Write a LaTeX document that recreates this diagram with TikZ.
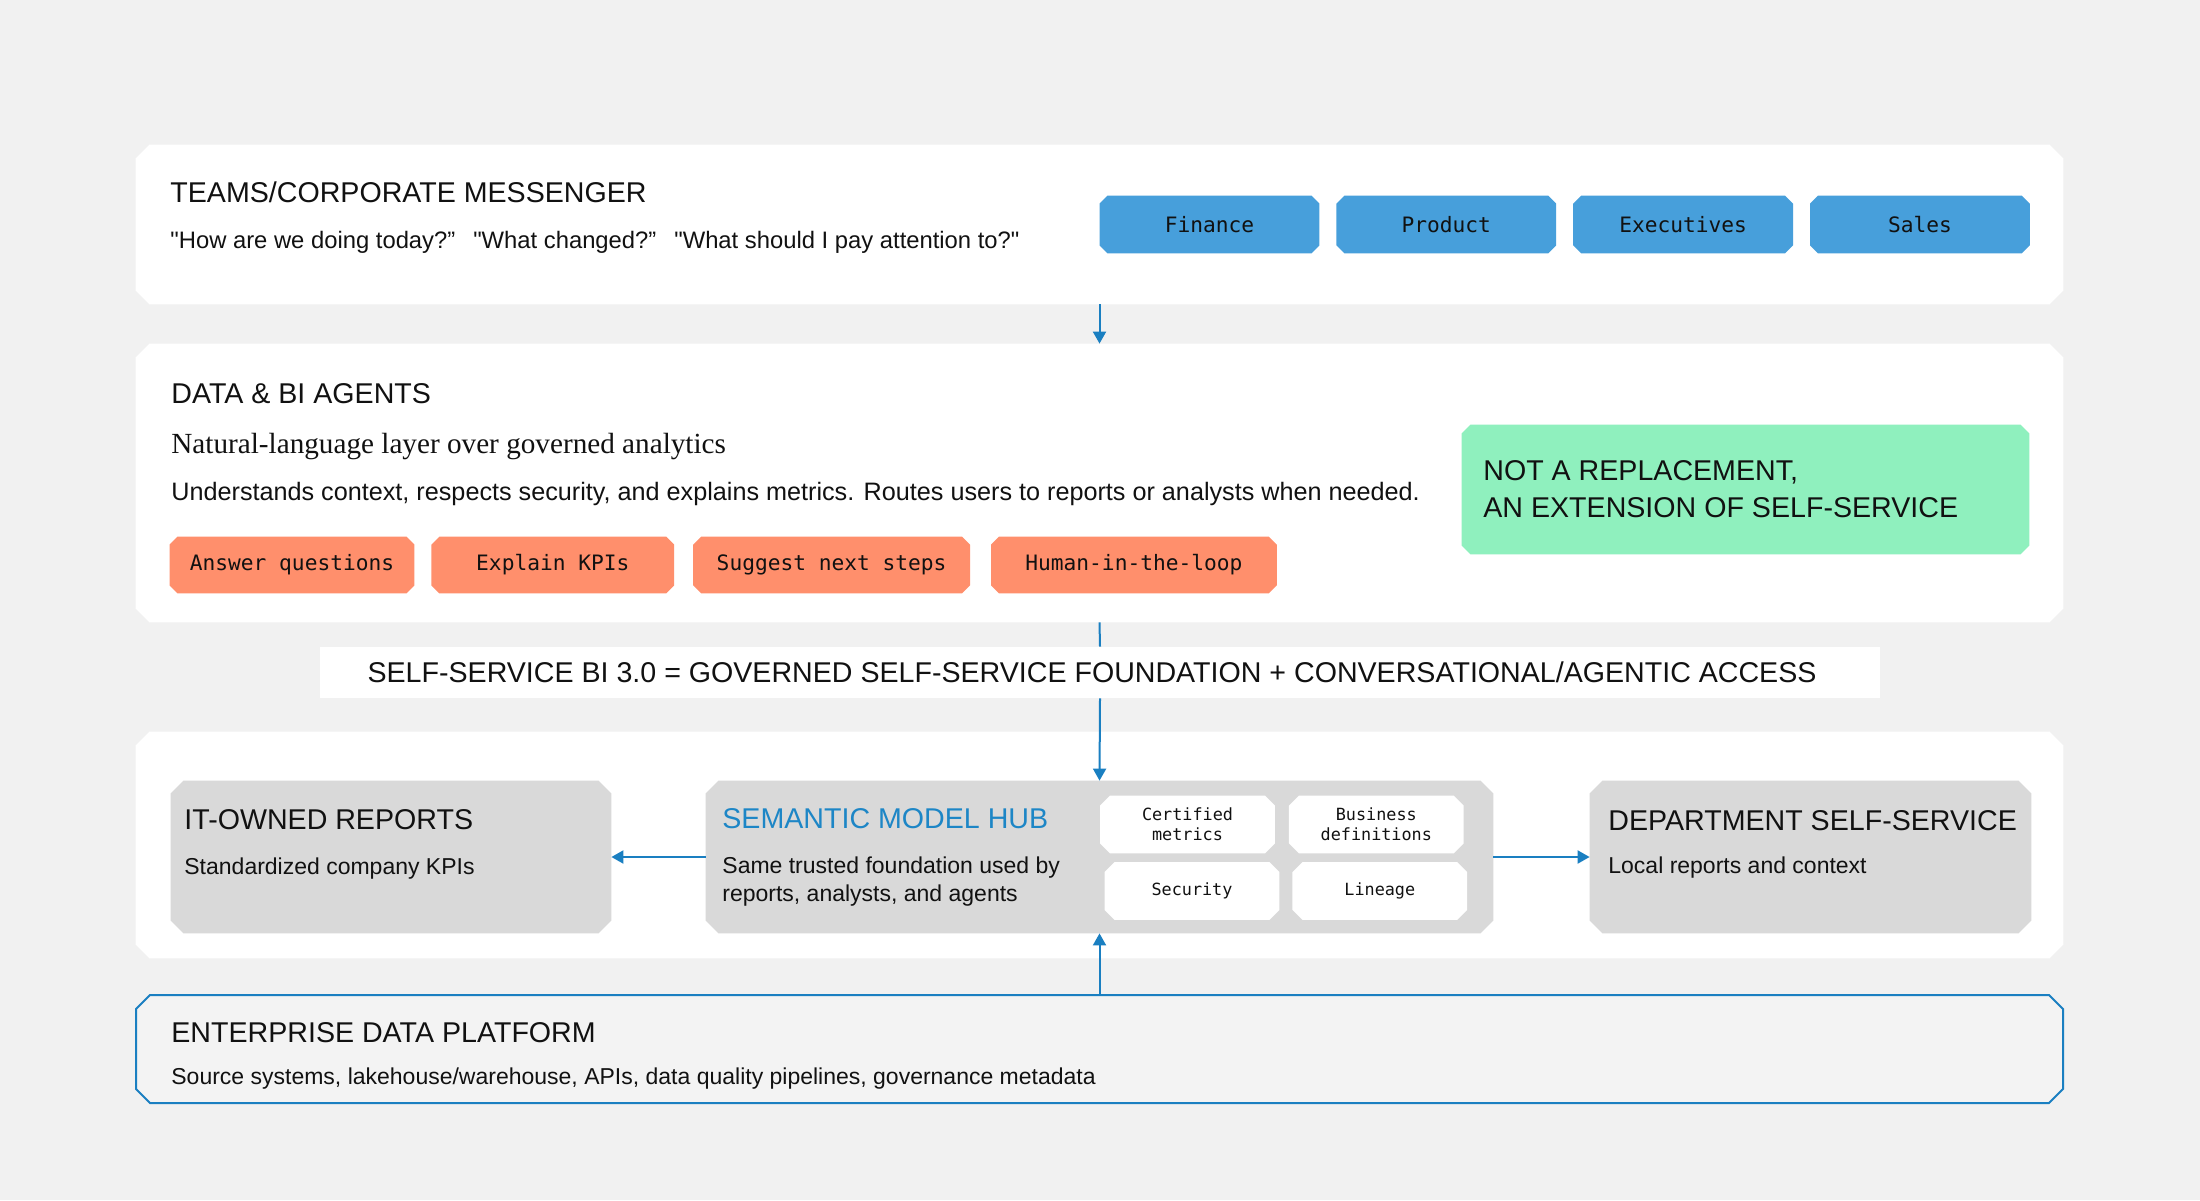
\documentclass[tikz,border=0pt]{standalone}
\usepackage{fontspec}
\setmainfont{Liberation Sans}
\setmonofont{DejaVu Sans Mono}
\newfontfamily\serifface{Liberation Serif}
\usetikzlibrary{arrows.meta,positioning}
\definecolor{pagebg}{HTML}{F1F1F1}
\definecolor{btnblue}{HTML}{479FDB}
\definecolor{chiporange}{HTML}{FF8F6C}
\definecolor{notegreen}{HTML}{8FF0BE}
\definecolor{boxgray}{HTML}{D9D9D9}
\definecolor{linkblue}{HTML}{1A7FC1}
\definecolor{hubblue}{HTML}{1D86C6}
\definecolor{platformfill}{HTML}{F3F3F3}
\definecolor{inktext}{HTML}{111111}
\newcommand\headfont{\fontsize{14.3pt}{18.2pt}\selectfont}
\newcommand\bodyfont{\fontsize{11.5pt}{14pt}\selectfont}
\newcommand\chipfont{\ttfamily\fontsize{10.6pt}{12pt}\selectfont}
\newcommand\minifont{\ttfamily\fontsize{8.4pt}{10pt}\selectfont}

\makeatletter
\pgfkeys{/pgf/corner cut/.initial=5pt}
\pgfdeclareshape{cut rectangle}{%
  \inheritsavedanchors[from=rectangle]%
  \inheritanchorborder[from=rectangle]%
  \inheritanchor[from=rectangle]{center}%
  \inheritanchor[from=rectangle]{text}%
  \inheritanchor[from=rectangle]{base}%
  \inheritanchor[from=rectangle]{base west}%
  \inheritanchor[from=rectangle]{base east}%
  \inheritanchor[from=rectangle]{mid}%
  \inheritanchor[from=rectangle]{north}%
  \inheritanchor[from=rectangle]{south}%
  \inheritanchor[from=rectangle]{east}%
  \inheritanchor[from=rectangle]{west}%
  \inheritanchor[from=rectangle]{north east}%
  \inheritanchor[from=rectangle]{north west}%
  \inheritanchor[from=rectangle]{south east}%
  \inheritanchor[from=rectangle]{south west}%
  \backgroundpath{%
    \pgfmathsetlengthmacro\cutsize{\pgfkeysvalueof{/pgf/corner cut}}%
    \southwest \edef\cutleft{\the\pgf@x}\edef\cutbottom{\the\pgf@y}%
    \northeast \edef\cutright{\the\pgf@x}\edef\cuttop{\the\pgf@y}%
    \pgfmathsetlengthmacro\cutleftin{\cutleft+\cutsize}%
    \pgfmathsetlengthmacro\cutrightin{\cutright-\cutsize}%
    \pgfmathsetlengthmacro\cutbottomin{\cutbottom+\cutsize}%
    \pgfmathsetlengthmacro\cuttopin{\cuttop-\cutsize}%
    \pgfpathmoveto{\pgfqpoint{\cutleftin}{\cutbottom}}%
    \pgfpathlineto{\pgfqpoint{\cutrightin}{\cutbottom}}%
    \pgfpathlineto{\pgfqpoint{\cutright}{\cutbottomin}}%
    \pgfpathlineto{\pgfqpoint{\cutright}{\cuttopin}}%
    \pgfpathlineto{\pgfqpoint{\cutrightin}{\cuttop}}%
    \pgfpathlineto{\pgfqpoint{\cutleftin}{\cuttop}}%
    \pgfpathlineto{\pgfqpoint{\cutleft}{\cuttopin}}%
    \pgfpathlineto{\pgfqpoint{\cutleft}{\cutbottomin}}%
    \pgfpathclose
  }%
}
\makeatother

\begin{document}
\begin{tikzpicture}[x=0.5pt, y=-0.5pt, node distance=8.5pt,
    panel/.style={cut rectangle, corner cut=7pt, fill=white, inner sep=0pt, minimum width=963.5pt},
    button/.style={cut rectangle, corner cut=4pt, fill=btnblue, inner sep=0pt, minimum width=109.5pt, minimum height=28.5pt, font=\chipfont, text=inktext},
    chip/.style={cut rectangle, corner cut=4pt, fill=chiporange, inner sep=0pt, minimum height=28pt, font=\chipfont, text=inktext},
    graybox/.style={cut rectangle, corner cut=6.5pt, fill=boxgray, inner sep=0pt, minimum height=76pt},
    minibox/.style={cut rectangle, corner cut=5pt, fill=white, inner sep=0pt, minimum width=87pt, minimum height=28.5pt, align=center, font=\minifont, text=inktext},
    headtext/.style={anchor=base west, inner sep=0pt, font=\headfont, text=inktext},
    bodytext/.style={anchor=base west, inner sep=0pt, font=\bodyfont, text=inktext},
    link/.style={draw=linkblue, line width=1pt, -{Triangle[length=6pt, width=6.5pt]}},
    linkline/.style={draw=linkblue, line width=1pt}]

    \fill[pagebg] (0,0) rectangle (2200,1200);
    \useasboundingbox (0,0) rectangle (2200,1200);

    \node [panel, minimum height=79.5pt] (messenger) at (1099.5,224.5) {};
    \node [headtext] (msgtitle) at (170,202) {TEAMS/CORPORATE MESSENGER};
    \node [bodytext, font=\fontsize{11.9pt}{14pt}\selectfont] (msgquotes) at (170,248) {\textquotedbl How are we doing today?”\hspace{9pt}\textquotedbl What changed?”\hspace{9pt}\textquotedbl What should I pay attention to?\textquotedbl};
    \node [button] (finance) at (1209.5,224.5) {Finance};
    \node [button, right=of finance] (product) {Product};
    \node [button, right=of product] (executives) {Executives};
    \node [button, right=of executives] (sales) {Sales};

    \node [panel, minimum height=139pt] (agents) at (1099.5,483) {};
    \node [headtext] (agenttitle) at (171,403) {DATA \& BI AGENTS};
    \node [anchor=base west, inner sep=0pt, font=\serifface\fontsize{14.6pt}{17pt}\selectfont, text=inktext] (agentlead) at (171,453) {Natural-language layer over governed analytics};
    \node [bodytext, font=\fontsize{12.6pt}{15pt}\selectfont] (agentbody) at (171,500) {Understands context, respects security, and explains metrics. Routes users to reports or analysts when needed.};
    \node [chip, minimum width=122pt] (answer) at (292,565) {Answer questions};
    \node [chip, minimum width=121pt, right=of answer] (explain) {Explain KPIs};
    \node [chip, minimum width=138pt, right=9.5pt of explain] (suggest) {Suggest next steps};
    \node [chip, minimum width=142.5pt, right=10.5pt of suggest] (human) {Human-in-the-loop};
    \node [cut rectangle, corner cut=4.5pt, fill=notegreen, inner sep=0pt, minimum width=283.5pt, minimum height=64.5pt] (extension) at (1745.5,489.5) {};
    \node [headtext, align=left] (extensiontext) at (1483,517) {NOT A REPLACEMENT,\\AN EXTENSION OF SELF-SERVICE};

    \node [fill=white, inner sep=0pt, minimum width=780pt, minimum height=25.5pt, font=\headfont, text=inktext] (banner) at (1100,672.5) {SELF-SERVICE BI 3.0 = GOVERNED SELF-SERVICE FOUNDATION + CONVERSATIONAL/AGENTIC ACCESS\hspace*{8pt}};

    \node [panel, minimum height=113pt] (hubrow) at (1099.5,845) {};
    \node [graybox, minimum width=220pt] (itreports) at (391,857) {};
    \node [headtext] (ittitle) at (184,829) {IT-OWNED REPORTS};
    \node [bodytext] (itsub) at (184,874) {Standardized company KPIs};
    \node [graybox, minimum width=393.5pt] (hub) at (1099.5,857) {};
    \node [headtext, text=hubblue] (hubtitle) at (722,828) {SEMANTIC MODEL HUB};
    \node [bodytext, align=left] (hubsub) at (722,901) {Same trusted foundation used by\\reports, analysts, and agents};
    \node [minibox] (certified) at (1187.5,824.5) {Certified\\metrics};
    \node [minibox, right=7pt of certified] (definitions) {Business\\definitions};
    \node [minibox] (security) at (1192,891) {Security};
    \node [minibox, right=6.5pt of security] (lineage) {Lineage};
    \node [graybox, minimum width=220.5pt] (deptself) at (1810.5,857) {};
    \node [headtext] (depttitle) at (1608,830) {DEPARTMENT SELF-SERVICE};
    \node [bodytext] (deptsub) at (1608,873) {Local reports and context};

    \node [panel, fill=platformfill, draw=linkblue, line width=1pt, minimum height=53pt, minimum width=962.5pt] (platform) at (1099.5,1049) {};
    \node [headtext] (platformtitle) at (171,1042) {ENTERPRISE DATA PLATFORM};
    \node [bodytext] (platformsub) at (171,1084) {Source systems, lakehouse/warehouse, APIs, data quality pipelines, governance metadata};

    \draw[link] (messenger.south) -- (agents.north);
    \draw[linkline] (agents.south) -- (banner.north);
    \draw[link] (banner.south) -- (hub.north);
    \draw[link] (platform.north) -- (hub.south);
    \draw[link] (hub.west) -- (itreports.east);
    \draw[link] (hub.east) -- (deptself.west);
\end{tikzpicture}
\end{document}
